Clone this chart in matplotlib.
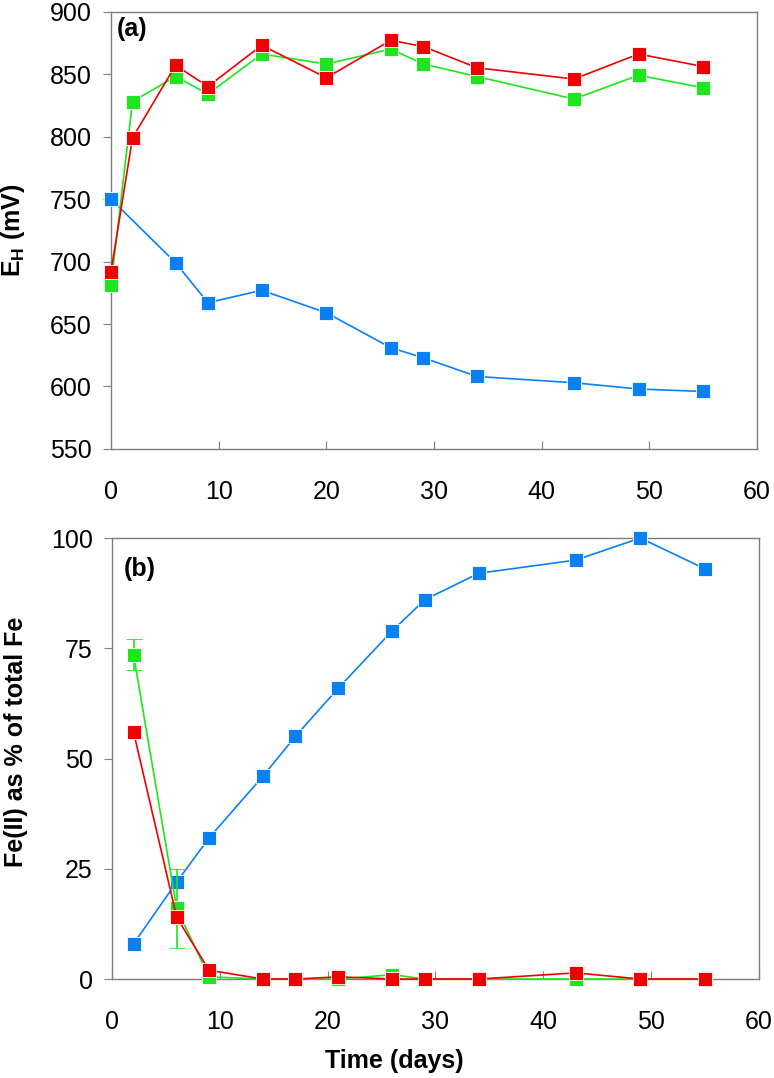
import numpy as np
import matplotlib
matplotlib.use("Agg")
import matplotlib.pyplot as plt

plt.rcParams['font.family'] = ['Liberation Sans', 'DejaVu Sans']
plt.rcParams['mathtext.fontset'] = 'custom'
plt.rcParams['mathtext.rm'] = 'Liberation Sans'
plt.rcParams['mathtext.bf'] = 'Liberation Sans:bold'

# panel (a): redox potential
days_a = [0, 2, 6, 9, 14, 20, 26, 29, 34, 43, 49, 55]
eh_blue_days = [0, 6, 9, 14, 20, 26, 29, 34, 43, 49, 55]
eh_blue = [750, 699, 667, 677, 659, 631, 623, 608, 603, 598, 596]
eh_green = [681, 828, 848, 834, 866, 858, 870, 858, 848, 830, 849, 839]
eh_red = [692, 799, 857, 840, 873, 847, 877, 872, 855, 846, 866, 856]

# panel (b): Fe(II) fraction
days_b = [2, 6, 9, 14, 17, 21, 26, 29, 34, 43, 49, 55]
fe_blue = [8, 22, 32, 46, 55, 66, 79, 86, 92, 95, 100, 93]
fe_green = [73.5, 16, 0.5, 0, 0, 0, 1, 0, 0, 0, 0, 0]
fe_green_err = [3.5, 9, 0, 0, 0, 0, 0, 0, 0, 0, 0, 0]
fe_red = [56, 14, 2, 0, 0, 0.5, 0, 0, 0, 1.4, 0, 0]

BLUE = '#0a80f5'
GREEN = '#1ee61e'
RED = '#f00000'
SPINE = '#7f7f7f'

fig = plt.figure(figsize=(7.74, 10.78), dpi=100)
ax1 = fig.add_axes([0.1434, 0.5835, 0.8346, 0.4058])
ax2 = fig.add_axes([0.1447, 0.0918, 0.8359, 0.4091])

mk = dict(marker='s', markersize=9.5, markeredgecolor='white', markeredgewidth=0.6,
          linewidth=1.2, clip_on=False)

ax1.plot(eh_blue_days, eh_blue, color=BLUE, markerfacecolor=BLUE, zorder=3, **mk)
ax1.plot(days_a, eh_green, color=GREEN, markerfacecolor=GREEN, zorder=4, **mk)
ax1.plot(days_a, eh_red, color=RED, markerfacecolor=RED, zorder=5, **mk)

ax2.plot(days_b, fe_blue, color=BLUE, markerfacecolor=BLUE, zorder=3, **mk)
ax2.errorbar(days_b, fe_green, yerr=fe_green_err, color=GREEN, markerfacecolor=GREEN,
             capsize=6, elinewidth=1.2, capthick=1.2, zorder=4, **mk)
ax2.plot(days_b, fe_red, color=RED, markerfacecolor=RED, zorder=5, **mk)

for ax in (ax1, ax2):
    ax.set_xlim(0, 60)
    ax.set_xticks(np.arange(0, 61, 10))
    for s in ax.spines.values():
        s.set_color(SPINE)
        s.set_linewidth(1.0)
    ax.tick_params(axis='x', direction='in', length=6, color=SPINE, labelsize=18, pad=22)
    ax.tick_params(axis='y', direction='out', length=6, color=SPINE, labelsize=18, pad=8)

ax1.set_ylim(550, 900)
ax1.set_yticks(np.arange(550, 901, 50))
ax1.set_ylabel(r'E$_\mathbf{H}$ (mV)', fontsize=18, fontweight='bold')
ax1.yaxis.set_label_coords(-0.130, 0.5)
ax1.text(0.009, 0.96, '(a)', transform=ax1.transAxes, fontsize=18, fontweight='bold',
         ha='left', va='center')

ax2.set_ylim(0, 100)
ax2.set_yticks([0, 25, 50, 75, 100])
ax2.set_ylabel('Fe(II) as % of total Fe', fontsize=18, fontweight='bold')
ax2.yaxis.set_label_coords(-0.130, 0.537)
ax2.set_xlabel('Time (days)', fontsize=18, fontweight='bold')
ax2.xaxis.set_label_coords(0.436, -0.159)
ax2.text(0.0185, 0.93, '(b)', transform=ax2.transAxes, fontsize=18, fontweight='bold',
         ha='left', va='center')

fig.savefig('out.png', dpi=100)
